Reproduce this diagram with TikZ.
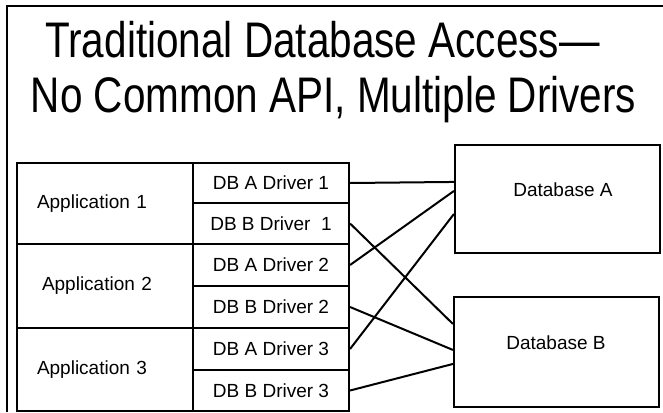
\documentclass[tikz,border=0pt]{standalone}
\usepackage{fontspec}
\setmainfont{Liberation Sans}
\usetikzlibrary{calc}
\begin{document}
\begin{tikzpicture}[x=1pt,y=-1pt,
  box/.style={draw=black,line width=2.1pt,rectangle,inner sep=0pt,font=\fontsize{19}{21}\selectfont},
  appbox/.style={box,minimum height=#1,text width=136pt,inner xsep=20pt,align=left},
  drvbox/.style={box,minimum width=156pt,minimum height=#1},
  dbbox/.style={box,minimum width=205pt},
  dbtext/.style={inner sep=0pt,font=\fontsize{19}{21}\selectfont},
  conn/.style={line width=2pt},
  ttl/.style={anchor=base,inner sep=0pt,font=\fontsize{50}{55}\selectfont}]
\useasboundingbox (0,0) rectangle (663,412);
\draw[line width=2pt] (7,412) -- (7,6) -- (663,6);
\node[ttl] (t1) at (322.5,58) {\scalebox{0.81}[1]{Traditional Database Access—}};
\node[ttl] (t2) at (333.5,112) {\scalebox{0.81}[1]{No Common API, Multiple Drivers}};
% applications
\node[appbox=81pt] (app1) at (105,203.5) {Application 1};
\node[appbox=84pt] (app2) at (105,286) {\hspace*{5pt}Application 2};
\node[appbox=83pt] (app3) at (105,369.5) {Application 3};
% drivers
\node[drvbox=40pt] (d1) at (271,183) {DB A Driver 1};
\node[drvbox=41pt] (d2) at (271,223.5) {DB B Driver\ \ 1};
\node[drvbox=42pt] (d3) at (271,265) {DB A Driver 2};
\node[drvbox=42pt] (d4) at (271,307) {DB B Driver 2};
\node[drvbox=42pt] (d5) at (271,349) {DB A Driver 3};
\node[drvbox=41pt] (d6) at (271,390.5) {DB B Driver 3};
% databases
\node[dbbox,minimum height=108pt] (dba) at (557.5,199) {};
\node[dbtext] (dbat) at (563,190) {Database A};
\node[dbbox,minimum height=110pt] (dbb) at (556.5,352) {};
\node[dbtext] (dbbt) at (556,343) {Database B};
% connectors
\draw[conn] (d1.east) -- ($(dba.north west)+(0,38)$);
\draw[conn] (d2.east) -- ($(dbb.north west)+(0,28)$);
\draw[conn] (d3.east) -- ($(dba.north west)+(0,47)$);
\draw[conn] (d4.east) -- ($(dbb.north west)+(0,54)$);
\draw[conn] (d5.east) -- ($(dba.north west)+(0,70)$);
\draw[conn] (d6.east) -- ($(dbb.north west)+(0,68)$);
\end{tikzpicture}
\end{document}
